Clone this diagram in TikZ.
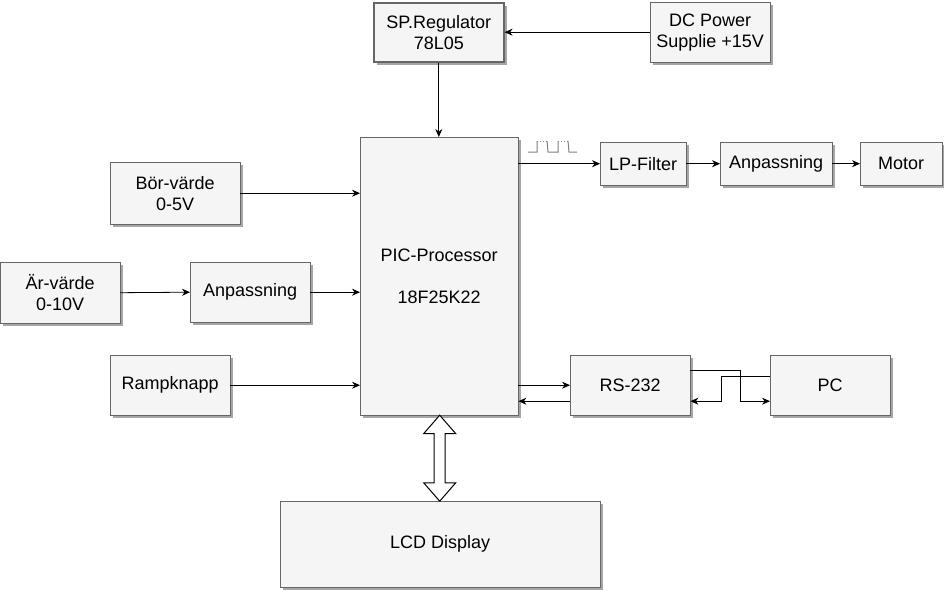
\documentclass[tikz,border=0pt]{standalone}
\usepackage{fontspec}
\setmainfont{Liberation Sans}
\usetikzlibrary{arrows.meta,shapes.arrows,shadows,calc}

\definecolor{boxfill}{HTML}{F5F5F5}
\definecolor{boxline}{HTML}{666666}

\tikzset{
  blk/.style={draw=boxline, fill=boxfill, anchor=north west, align=center,
    inner sep=0pt, font=\fontsize{18}{21}\selectfont,
    drop shadow={shadow xshift=3pt, shadow yshift=-3pt, fill=black!35, opacity=1}},
  conn/.style={-{Stealth[length=8pt,width=7pt]}, line width=0.8pt},
}

\begin{document}
\begin{tikzpicture}[x=1pt, y=-1pt]
  \useasboundingbox (0,0) rectangle (944,591); % 画像の大きさ

  % ブロック
  \node[blk, line width=1.6pt, minimum width=130pt, minimum height=59pt] (reg) at (373,2) {SP.Regulator\\78L05};
  \node[blk, minimum width=120pt, minimum height=60pt] (dcps) at (650,2) {DC Power\\Supplie +15V};
  \node[blk, minimum width=158pt, minimum height=278pt] (pic) at (360,137) {PIC-Processor\\ \\18F25K22};
  \node[blk, minimum width=130pt, minimum height=62pt] (bor) at (110,162) {Bör-värde\\0-5V};
  \node[blk, minimum width=86pt, minimum height=43pt] (lpf) at (600,142) {LP-Filter};
  \node[blk, minimum width=112pt, minimum height=43pt] (anp1) at (720,142) {Anpassning};
  \node[blk, minimum width=82pt, minimum height=43pt] (motor) at (860,142) {Motor};
  \node[blk, minimum width=120pt, minimum height=61pt] (ar) at (0,262) {Är-värde\\0-10V};
  \node[blk, minimum width=120pt, minimum height=60pt] (anp2) at (190,262) {Anpassning};
  \node[blk, minimum width=120pt, minimum height=60pt] (ramp) at (110,355) {Rampknapp};
  \node[blk, minimum width=120pt, minimum height=60pt] (rs) at (570,355) {RS-232};
  \node[blk, minimum width=120pt, minimum height=60pt] (pc) at (770,355) {PC};
  \node[blk, minimum width=320pt, minimum height=86pt] (lcd) at (280,501) {LCD Display};

  % 接続
  \draw[conn] (dcps.west) -- (dcps.west -| reg.east);
  \draw[conn] (reg.south) -- (reg.south |- pic.north);
  \draw[conn] (pic.east |- lpf.west) -- (lpf.west);
  \draw[conn] (lpf.east) -- (anp1.west);
  \draw[conn] (anp1.east) -- (motor.west);
  \draw[conn] (bor.east) -- (bor.east -| pic.west);
  \draw[conn] (ar.east) -- (anp2.west);
  \draw[conn] (anp2.east) -- (anp2.east -| pic.west);
  \draw[conn] (ramp.east) -- (ramp.east -| pic.west);
  \draw[conn] (pic.east |- rs.west) -- (rs.west);
  \draw[conn] ([yshift=-16pt]rs.west) -- ([yshift=-16pt]rs.west -| pic.east);
  \draw[conn] ([yshift=15pt]rs.east) -- ++(50,0) |- ([yshift=-16pt]pc.west);
  \draw[conn] ([yshift=9pt]pc.west) -- ++(-49,0) |- ([yshift=-16pt]rs.east);

  % LCDバス
  \node[double arrow, draw, fill=white, line width=1pt, rotate=90, inner sep=5pt,
    double arrow head extend=10.5pt, double arrow tip angle=82, minimum height=86pt]
    (bus) at ($(pic.south)!0.5!(lcd.north)$) {};

  % PWM信号
  \draw[gray, line width=1pt] (528,152) -- (537,152) -- (537,141)
    (547,141) -- (548,152) -- (558,152) -- (558,141)
    (568,141) -- (569,152) -- (577,152);
  \draw[gray, line width=1pt, dotted] (537,141) -- (547,141) (558,141) -- (568,141);
\end{tikzpicture}
\end{document}
